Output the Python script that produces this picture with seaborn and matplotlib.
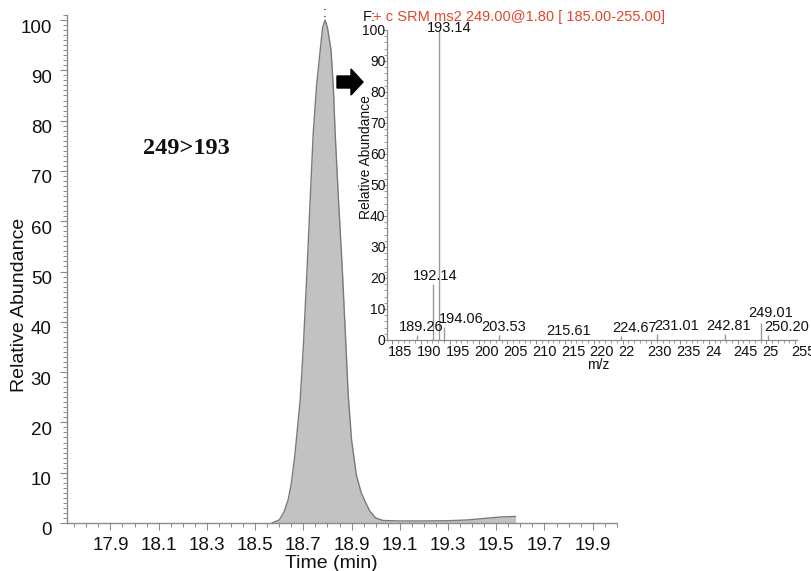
import seaborn as sns
import matplotlib.pyplot as plt
from matplotlib.ticker import MultipleLocator
from matplotlib.transforms import ScaledTranslation
from matplotlib.patches import FancyArrow

# chromatogram 249>193
time_min = [18.57, 18.60, 18.62, 18.637, 18.65, 18.665, 18.687, 18.70, 18.716, 18.73,
            18.741, 18.755, 18.77, 18.78, 18.79, 18.80, 18.815, 18.825, 18.832, 18.845,
            18.861, 18.875, 18.886, 18.90, 18.92, 18.94, 18.956, 18.975, 19.0, 19.03,
            19.1, 19.2, 19.3, 19.38, 19.45, 19.52, 19.58]
abundance = [0, 0.6, 2.2, 4.6, 7.8, 13.5, 24.5, 35, 51, 66,
             77.5, 87, 94, 98.5, 100, 98.5, 94, 86, 77.5, 65,
             51, 37, 25.5, 16.5, 9.5, 6, 4.3, 2.4, 1.0, 0.5,
             0.4, 0.4, 0.45, 0.6, 0.9, 1.2, 1.3]
time_ticks = [17.9, 18.1, 18.3, 18.5, 18.7, 18.9, 19.1, 19.3, 19.5, 19.7, 19.9]

# product ion spectrum (inset)
mz_peaks = [189.26, 192.14, 193.14, 194.06, 203.53, 215.61, 224.67, 231.01, 242.81, 249.01, 250.20]
mz_abund = [1.6, 18, 100, 4.2, 1.6, 0.3, 1.2, 2.0, 2.0, 5.5, 1.6]
mz_ticks = [185, 190, 195, 200, 205, 210, 215, 220, 225, 230, 235, 240, 245, 250, 255]
mz_tick_labels = ['185', '190', '195', '200', '205', '210', '215', '220', '22',
                  '230', '235', '24', '245', '25', '255']
# label shifts in pixels
label_dx = [4, 2, 10, 17, 5, 0, 14, 20, 4, 10, 19]
label_dy = [1, 1, -5, 1, 1, 1, 1, 1, 1, 3, 1]

sns.set_theme(style='ticks')
plt.rcParams['font.family'] = ['Liberation Sans', 'DejaVu Sans']

grey = '#8a8a8a'
fig = plt.figure(figsize=(8.11, 5.71), dpi=100)

# main chromatogram
ax = fig.add_axes([0.0826, 0.0841, 0.678, 0.8896])
ax.fill_between(time_min, abundance, color='#c2c2c2', lw=0)
sns.lineplot(x=time_min, y=abundance, ax=ax, color='#7a7a7a', lw=1)
ax.set_xlim(17.72, 20.0)
ax.set_ylim(0, 101)
ax.set_xticks(time_ticks)
ax.set_xticklabels([f'{t:.1f}' for t in time_ticks])
ax.xaxis.set_minor_locator(MultipleLocator(0.05))
ax.yaxis.set_major_locator(MultipleLocator(10))
ax.yaxis.set_minor_locator(MultipleLocator(1))
ax.tick_params(axis='both', which='major', length=5, width=0.8, color=grey,
               labelsize=13.5, labelcolor='#111111')
ax.tick_params(axis='both', which='minor', length=3, width=0.7, color=grey)
ax.tick_params(axis='x', pad=5)
ax.tick_params(axis='y', pad=6)
for s in ['top', 'right']:
    ax.spines[s].set_visible(False)
for s in ['left', 'bottom']:
    ax.spines[s].set_color(grey)
    ax.spines[s].set_linewidth(1)
ax.set_xlabel('Time (min)', fontsize=14, color='#111111', va='top')
ax.set_ylabel('Relative Abundance', fontsize=14, color='#111111')
ax.xaxis.set_label_coords(0.48, -0.063)
ax.yaxis.set_label_coords(-0.07, 0.43)
shift = ScaledTranslation(0, -0.06, fig.dpi_scale_trans)
for lab in ax.get_yticklabels():
    lab.set_transform(lab.get_transform() + shift)

ax.text(time_min[abundance.index(max(abundance))], max(abundance), ':',
        ha='center', va='bottom', fontsize=10, color='#111111')
fig.text(143 / 811, 1 - 148 / 571, '249>193', family='Liberation Serif',
         weight='bold', fontsize=17.5, va='center', ha='left', color='#111111')

# inset spectrum
ax_in = fig.add_axes([0.4772, 0.4046, 0.5055, 0.5429])
ax_in.set_facecolor('none')
ax_in.vlines(mz_peaks, 0, mz_abund, color='#9a9a9a', lw=1)
for mz, h, lab, dx, dy in zip(mz_peaks, mz_abund, [f'{m:.2f}' for m in mz_peaks],
                              label_dx, label_dy):
    ax_in.annotate(lab, xy=(mz, h), xytext=(dx, dy), textcoords='offset pixels',
                   ha='center', va='bottom', fontsize=10.5, color='#111111')
ax_in.set_xlim(184.1, 255.3)
ax_in.set_ylim(0, 100)
ax_in.set_xticks(mz_ticks)
ax_in.set_xticklabels(mz_tick_labels, ha='left')
ax_in.xaxis.set_minor_locator(MultipleLocator(1))
ax_in.yaxis.set_major_locator(MultipleLocator(10))
ax_in.yaxis.set_minor_locator(MultipleLocator(2))
ax_in.tick_params(axis='both', which='major', length=3, width=0.7, color=grey,
                  labelsize=10.5, labelcolor='#111111')
ax_in.tick_params(axis='both', which='minor', length=2, width=0.6, color=grey)
ax_in.tick_params(axis='x', pad=0.5)
ax_in.tick_params(axis='y', pad=-2, labelsize=10)
for s in ['top', 'right']:
    ax_in.spines[s].set_visible(False)
for s in ['left', 'bottom']:
    ax_in.spines[s].set_color(grey)
    ax_in.spines[s].set_linewidth(0.9)
xshift = ScaledTranslation(-0.04, 0, fig.dpi_scale_trans)
for lab in ax_in.get_xticklabels():
    lab.set_transform(lab.get_transform() + xshift)
ax_in.set_xlabel('m/z', fontsize=10, color='#111111', va='top')
ax_in.set_ylabel('Relative Abundance', fontsize=10, color='#111111')
ax_in.xaxis.set_label_coords(0.515, -0.058)
ax_in.yaxis.set_label_coords(-0.034, 0.59)

# scan header
fig.text(363 / 811, 1 - 17 / 571, 'F:', fontsize=10.5, va='center', ha='left', color='#111111')
fig.text(373 / 811, 1 - 17 / 571, '+ c SRM ms2 249.00@1.80 [ 185.00-255.00]',
         fontsize=10.5, va='center', ha='left', color='#e0472d')

# arrow pointing to the spectrum
fig.patches.append(FancyArrow(3.37, 4.89, 0.26, 0, width=0.12, head_width=0.26,
                              head_length=0.12, length_includes_head=True,
                              color='black', transform=fig.dpi_scale_trans, figure=fig))

fig.savefig('out.png', dpi=100)
